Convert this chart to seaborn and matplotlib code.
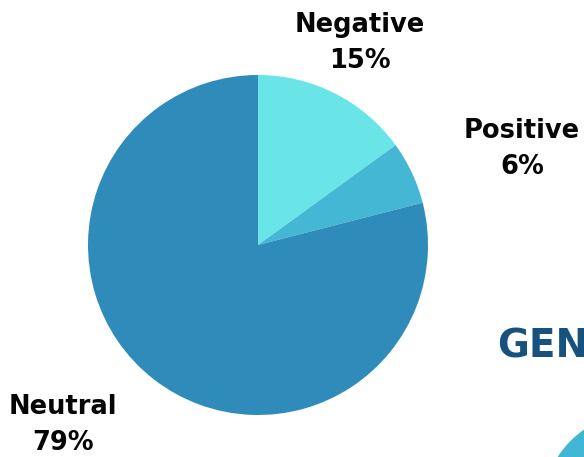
import matplotlib
matplotlib.use("Agg")
import matplotlib.pyplot as plt
import seaborn as sns
from matplotlib.patches import Circle

sns.set_theme(style="white")
plt.rcParams["font.family"] = ["DejaVu Sans"]

# Sentiment share
categories = ["Negative", "Positive", "Neutral"]
shares = [15, 6, 79]
colors = ["#69e5e8", "#44b7d4", "#2e8bba"]

W, H = 584, 457
fig = plt.figure(figsize=(W / 100, H / 100), dpi=100)
fig.patch.set_facecolor("white")
ax = fig.add_axes([0, 0, 1, 1])

cx, cy, r = 258, H - 245, 170
ax.pie(shares, colors=colors, startangle=90, counterclock=False,
       center=(cx, cy), radius=r, wedgeprops=dict(linewidth=0),
       frame=True)
ax.set_xlim(0, W)
ax.set_ylim(0, H)
ax.set_aspect("equal")
ax.axis("off")

label_pos = {"Negative": (360, H - 43), "Positive": (522, H - 149), "Neutral": (63, H - 425)}
for cat, val in zip(categories, shares):
    x, y = label_pos[cat]
    ax.text(x, y, f"{cat}\n{val}%", ha="center", va="center",
            fontsize=18.5, fontweight="heavy", color="#050505", linespacing=1.55)

# heading running off the right edge
ax.text(497, H - 346, "GENDER", ha="left", va="center", fontsize=28,
        fontweight="heavy", color="#17527f", clip_on=True)

# decorative disc in the lower right corner
ax.add_patch(Circle((640, H - 510), 98, color="#41b5d4", lw=0, clip_on=True))

fig.savefig("out.png", dpi=100, facecolor="white")
